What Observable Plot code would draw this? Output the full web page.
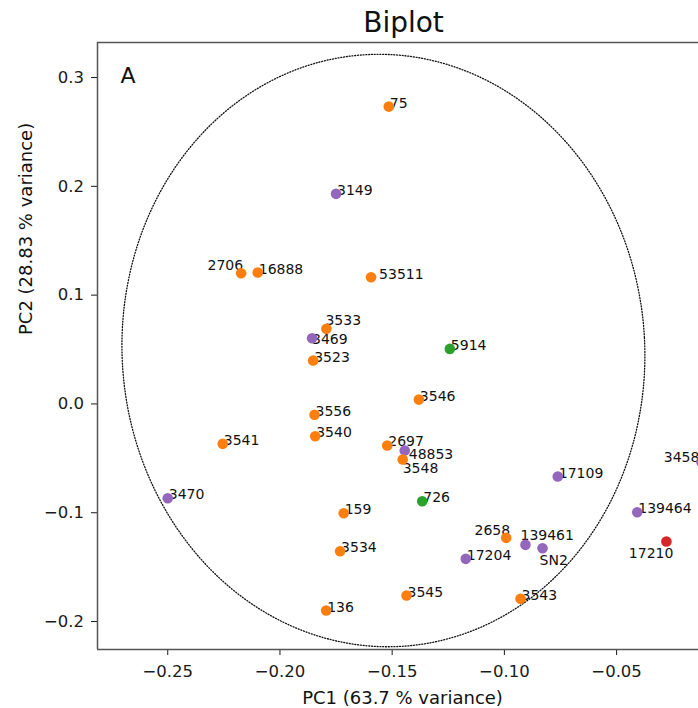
<!DOCTYPE html>
<html><head><meta charset="utf-8">
<script src="https://cdn.jsdelivr.net/npm/d3@7"></script>
<script src="https://cdn.jsdelivr.net/npm/@observablehq/plot@0.6"></script>
<style>
html,body{margin:0;padding:0;background:#fff;overflow:hidden}
#chart svg{display:block}
</style></head><body><div id="chart"></div>
<script>
const names = ["75","3149","2706","16888","53511","3533","3469","3523","5914","3546","3556","3540","3541","2697","48853","3548","17109","3458","3470","726","159","139464","17210","2658","139461","SN2","3534","17204","3545","3543","136"];
const pc1 = [-0.1515,-0.1750,-0.2173,-0.2099,-0.1594,-0.1793,-0.1857,-0.1852,-0.1243,-0.1381,-0.1846,-0.1843,-0.2255,-0.1522,-0.1444,-0.1453,-0.0762,-0.0122,-0.2500,-0.1366,-0.1716,-0.0408,-0.0278,-0.0992,-0.0906,-0.0830,-0.1732,-0.1172,-0.1436,-0.0928,-0.1794];
const pc2 = [0.2733,0.1931,0.1201,0.1208,0.1165,0.0690,0.0604,0.0399,0.0506,0.0040,-0.0100,-0.0297,-0.0367,-0.0382,-0.0428,-0.0511,-0.0667,-0.0534,-0.0867,-0.0894,-0.1005,-0.0995,-0.1265,-0.1231,-0.1295,-0.1326,-0.1354,-0.1424,-0.1761,-0.1791,-0.1899];
const groups = ["C1","C2","C1","C1","C1","C1","C2","C1","C3","C1","C1","C1","C1","C1","C2","C1","C2","C2","C2","C3","C1","C2","C4","C1","C2","C2","C1","C2","C1","C1","C1"];
const groupDomain = ["C1","C2","C3","C4"];
const groupColors = ["#ff7f0e","#9467bd","#2ca02c","#d62728"];
const xTicks = [-0.25,-0.20,-0.15,-0.10,-0.05];
const yTicks = [-0.2,-0.1,0.0,0.1,0.2,0.3];
const xDomain = [-0.2813,-0.0135];
const yDomain = [-0.2257,0.3322];
const titleText = "Biplot";
const panelText = "A";
const xLabel = "PC1 (63.7 % variance)";
const yLabel = "PC2 (28.83 % variance)";
// confidence ellipse (centre, semi-axes and skew terms, in data units)
const ellipse = {cx:-0.1539, cy:0.0491, a:0.1163, b:0.272, c:-0.0071, d:0.012};
// label placement nudges (px): [dx, dy, anchor]
const labelNudge = {
  "2706":[2,-3,"end"], "3458":[-2,0,"end"], "17210":[7,16,"end"], "2658":[4,-3,"end"],
  "139461":[-5,-5,"start"], "SN2":[-3,17,"start"], "48853":[4,8,"start"], "3548":[0,13,"start"],
  "3533":[-1,-4,"start"], "3469":[0,6,"start"], "53511":[8,2,"start"]
};

const data = names.map((name,i)=>({name, pc1: pc1[i], pc2: pc2[i], group: groups[i]}));
const ring = d3.range(0, 361, 1).map(deg => {
  const t = deg*Math.PI/180;
  return {x: ellipse.cx + ellipse.a*Math.cos(t) + ellipse.c*Math.sin(t),
          y: ellipse.cy + ellipse.b*Math.sin(t) + ellipse.d*Math.cos(t)};
});

const labelFont = {fontSize: 14, fill: "#111", lineAnchor: "bottom"};
const labelMarks = [
  Plot.text(data.filter(d => !(d.name in labelNudge)), {x: "pc1", y: "pc2", text: "name", textAnchor: "start", dx: 1, dy: 1, ...labelFont}),
  ...Object.entries(labelNudge).map(([k, [dx, dy, anchor]]) =>
    Plot.text(data.filter(d => d.name === k), {x: "pc1", y: "pc2", text: "name", textAnchor: anchor, dx, dy, ...labelFont}))
];

const chart = Plot.plot({
  width: 698, height: 708,
  marginLeft: 97, marginRight: 0, marginTop: 42, marginBottom: 59,
  style: {fontFamily: "DejaVu Sans, sans-serif", fontSize: "16.5px", color: "#1a1a1a", background: "#fff"},
  x: {domain: xDomain, ticks: xTicks, tickFormat: d3.format(".2f"), tickSize: 6, tickPadding: 10, label: null},
  y: {domain: yDomain, ticks: yTicks, tickFormat: d3.format(".1f"), tickSize: 6, tickPadding: 7.5, label: null},
  color: {domain: groupDomain, range: groupColors},
  marks: [
    Plot.line(ring, {x: "x", y: "y", stroke: "#111", strokeWidth: 1.3, strokeDasharray: "1,1.8"}),
    ...labelMarks,
    Plot.dot(data, {x: "pc1", y: "pc2", fill: "group", r: 5.3}),
    Plot.ruleX([xDomain[0]], {stroke: "#555", strokeWidth: 1.5}),
    Plot.ruleY([yDomain[0]], {stroke: "#555", strokeWidth: 1.5}),
    Plot.ruleY([yDomain[1]], {stroke: "#555", strokeWidth: 1.5}),
    Plot.text([panelText], {frameAnchor: "top-left", textAnchor: "start", lineAnchor: "bottom", dx: 23, dy: 40, fontSize: 22, fill: "#111"}),
    Plot.text([titleText], {frameAnchor: "top", lineAnchor: "bottom", dx: 5.5, dy: -11, fontSize: 28, fill: "#111"}),
    Plot.text([xLabel], {frameAnchor: "bottom", lineAnchor: "bottom", dx: 4.5, dy: 54, fontSize: 18, fill: "#111"}),
    Plot.text([yLabel], {frameAnchor: "left", lineAnchor: "middle", rotate: -90, dx: -71, dy: -11, fontSize: 18, fill: "#111"})
  ]
});
document.getElementById("chart").appendChild(chart);
</script></body></html>
